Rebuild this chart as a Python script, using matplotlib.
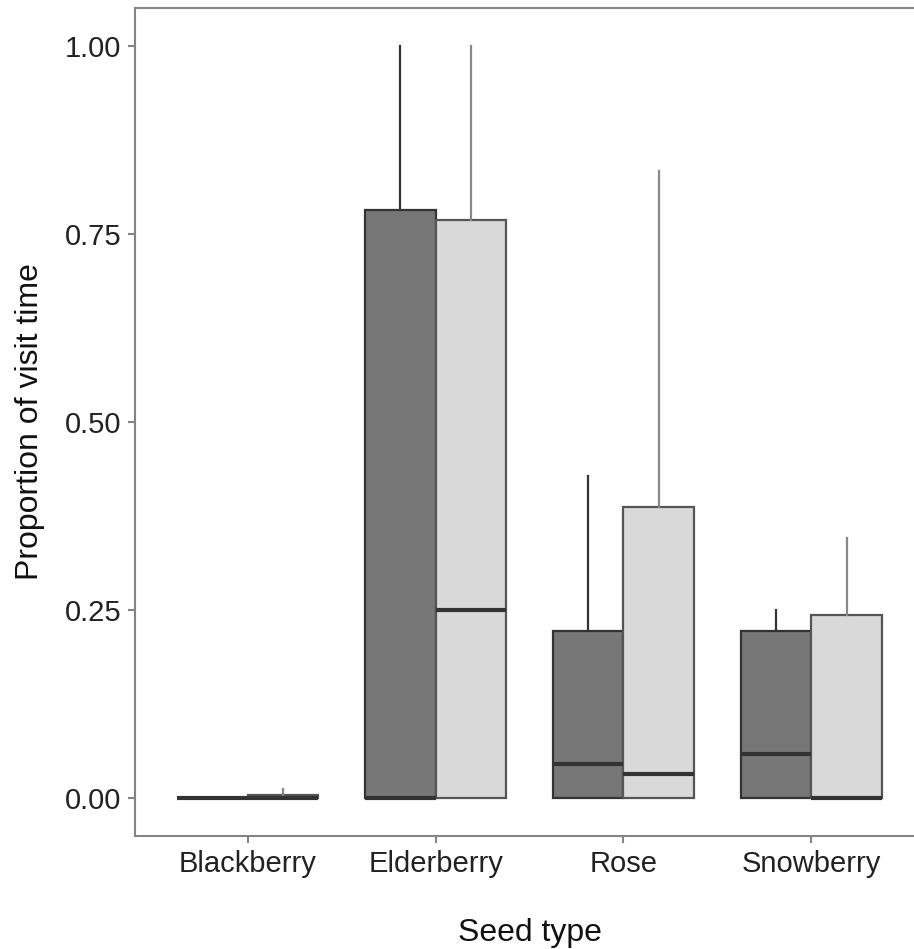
import matplotlib.pyplot as plt
import numpy as np

plt.rcParams['font.family'] = ['Liberation Sans', 'DejaVu Sans']

seeds = ["Blackberry", "Elderberry", "Rose", "Snowberry"]

# box stats per seed type, group 1 (dark) and group 2 (light)
dark_q1 = [0.0, 0.0, 0.0, 0.0]
dark_med = [0.0, 0.0, 0.045, 0.059]
dark_q3 = [0.0, 0.782, 0.222, 0.222]
dark_hi = [0.0, 1.0, 0.428, 0.25]

light_q1 = [0.0, 0.0, 0.0, 0.0]
light_med = [0.0, 0.25, 0.032, 0.0]
light_q3 = [0.005, 0.769, 0.387, 0.243]
light_hi = [0.012, 1.0, 0.833, 0.346]

fig = plt.figure(figsize=(9.14, 9.49), dpi=100)
ax = fig.add_axes([135 / 914, (949 - 836) / 949, (924 - 135) / 914, (836 - 8) / 949])

x = np.arange(1, len(seeds) + 1)
w = 0.375


def draw(q1, med, q3, hi, pos, fill, edge, whisk):
    stats = []
    for a, m, b, h in zip(q1, med, q3, hi):
        stats.append({"whislo": a, "q1": a, "med": m, "q3": b, "whishi": h, "fliers": []})
    ax.bxp(stats, positions=pos, widths=w, patch_artist=True, showcaps=False,
           manage_ticks=False,
           boxprops=dict(facecolor=fill, edgecolor=edge, linewidth=1.6),
           medianprops=dict(color="#333333", linewidth=3.0, solid_capstyle="butt"),
           whiskerprops=dict(color=whisk, linewidth=1.6))


draw(dark_q1, dark_med, dark_q3, dark_hi, x - w / 2, "#777777", "#333333", "#333333")
draw(light_q1, light_med, light_q3, light_hi, x + w / 2, "#d9d9d9", "#555555", "#888888")

ax.set_xlim(0.4, 4.6)
ax.set_ylim(-0.05, 1.05)
ax.set_xticks(x)
ax.set_xticklabels(seeds)
ax.set_yticks([0, 0.25, 0.5, 0.75, 1.0])
ax.set_yticklabels(["0.00", "0.25", "0.50", "0.75", "1.00"])

for s in ax.spines.values():
    s.set_color("#858585")
    s.set_linewidth(1.5)
ax.tick_params(axis="both", colors="#858585", length=5, width=1.5, labelsize=21,
               labelcolor="#222222", pad=5)

ax.set_xlabel("Seed type", fontsize=23, color="#111111", labelpad=29)
ax.set_ylabel("Proportion of visit time", fontsize=23, color="#111111", labelpad=14)

fig.savefig("out.png", dpi=100)
